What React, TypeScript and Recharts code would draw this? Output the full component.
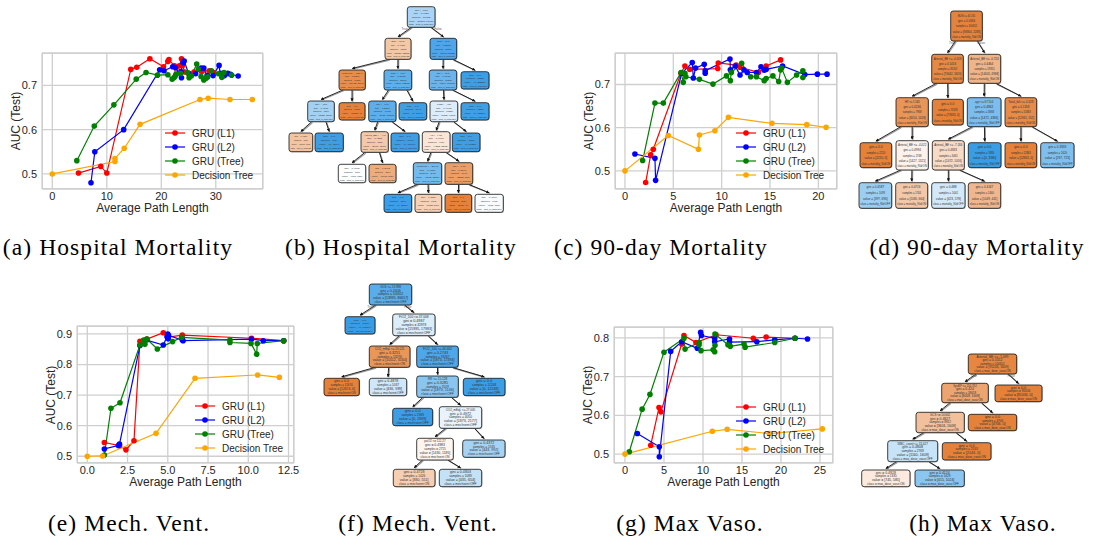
import { LineChart, Line, XAxis, YAxis, CartesianGrid } from "recharts";

type Pt = [number, number];

// (a) Hospital Mortality
const hospL1: Pt[] = [[4.8, 0.502], [8.9, 0.517], [10.0, 0.502], [14.4, 0.736], [15.5, 0.741], [17.9, 0.76], [20.4, 0.742], [21.2, 0.754], [21.4, 0.758], [22.4, 0.744], [22.6, 0.722], [23.3, 0.744], [23.7, 0.76], [23.9, 0.745], [24.3, 0.73], [26.0, 0.73], [27.5, 0.732], [28.8, 0.733], [29.6, 0.729]];
const hospL2: Pt[] = [[7.1, 0.48], [7.8, 0.55], [13.1, 0.6], [19.7, 0.735], [20.5, 0.733], [22.1, 0.742], [22.6, 0.74], [23.7, 0.717], [23.6, 0.731], [24.0, 0.751], [24.2, 0.755], [25.0, 0.727], [26.3, 0.726], [27.3, 0.739], [27.8, 0.739], [28.4, 0.722], [29.5, 0.722], [30.6, 0.745], [30.8, 0.727], [31.6, 0.722], [32.2, 0.727], [32.7, 0.725], [34.1, 0.721]];
const hospTree: Pt[] = [[4.5, 0.53], [7.7, 0.608], [11.3, 0.656], [15.4, 0.714], [17.2, 0.729], [19.3, 0.723], [21.2, 0.724], [22.0, 0.714], [22.4, 0.718], [22.7, 0.725], [23.5, 0.727], [24.8, 0.729], [25.1, 0.717], [25.5, 0.721], [26.5, 0.748], [26.8, 0.737], [27.3, 0.72], [27.8, 0.712], [28.2, 0.716], [28.5, 0.719], [29.2, 0.733], [30.5, 0.726], [31.1, 0.718], [31.5, 0.729], [32.9, 0.723]];
const hospDT: Pt[] = [[0, 0.5], [11.5, 0.528], [11.5, 0.535], [13.2, 0.558], [16.1, 0.612], [27.1, 0.668], [28.6, 0.671], [32.6, 0.668], [36.7, 0.668]];

// (c) 90-day Mortality
const mortL1: Pt[] = [[2.14, 0.473], [2.66, 0.537], [2.93, 0.55], [5.79, 0.726], [6.2, 0.743], [6.7, 0.735], [9.6, 0.737], [9.65, 0.75], [11.5, 0.745], [11.9, 0.74], [13.8, 0.728], [14.6, 0.743], [16.1, 0.757]];
const mortL2: Pt[] = [[1.03, 0.539], [3.1, 0.529], [3.17, 0.478], [5.86, 0.726], [6.96, 0.751], [7.07, 0.715], [7.3, 0.738], [8.2, 0.747], [8.3, 0.726], [8.3, 0.732], [10.86, 0.759], [10.9, 0.734], [11.4, 0.743], [11.9, 0.722], [12.3, 0.734], [12.65, 0.728], [13.6, 0.728], [14.07, 0.741], [14.4, 0.733], [14.6, 0.735], [16.3, 0.743], [18.6, 0.723], [19.9, 0.724], [20.9, 0.724]];
const mortTree: Pt[] = [[1.83, 0.524], [3.1, 0.657], [3.97, 0.657], [5.8, 0.728], [6.03, 0.705], [6.2, 0.726], [6.3, 0.718], [7.7, 0.712], [9.1, 0.701], [10.5, 0.72], [10.9, 0.709], [11.0, 0.728], [12.07, 0.749], [13.0, 0.718], [13.6, 0.718], [14.4, 0.709], [14.6, 0.714], [15.3, 0.72], [15.9, 0.707], [16.1, 0.734], [16.2, 0.738], [16.8, 0.705], [17.75, 0.722], [18.4, 0.732], [18.4, 0.716]];
const mortDT: Pt[] = [[0, 0.5], [4.48, 0.582], [7.6, 0.55], [7.7, 0.583], [9.3, 0.593], [10.7, 0.624], [15.2, 0.61], [18.8, 0.607], [20.8, 0.601]];

// (e) Mech. Vent.
const ventL1: Pt[] = [[1.06, 0.545], [2.0, 0.535], [2.4, 0.521], [2.9, 0.551], [3.27, 0.876], [3.7, 0.883], [4.72, 0.904], [5.03, 0.89], [5.9, 0.896], [10.2, 0.886], [12.2, 0.878]];
const ventL2: Pt[] = [[1.06, 0.524], [1.93, 0.535], [2.0, 0.54], [3.27, 0.862], [3.7, 0.88], [4.72, 0.864], [4.95, 0.891], [5.0, 0.9], [5.03, 0.884], [5.05, 0.895], [5.9, 0.88], [5.95, 0.878], [10.2, 0.883], [10.93, 0.878], [12.2, 0.878]];
const ventTree: Pt[] = [[1.06, 0.504], [1.47, 0.657], [2.03, 0.675], [3.27, 0.864], [3.5, 0.88], [3.58, 0.866], [3.7, 0.883], [4.35, 0.851], [5.3, 0.875], [5.86, 0.889], [8.86, 0.88], [8.86, 0.872], [10.17, 0.869], [10.52, 0.834], [10.56, 0.869], [12.2, 0.878]];
const ventDT: Pt[] = [[0, 0.5], [0.95, 0.501], [4.27, 0.575], [6.69, 0.755], [10.58, 0.766], [11.93, 0.758]];

// (g) Max Vaso.
const vasoL1: Pt[] = [[3.3, 0.523], [4.36, 0.62], [4.6, 0.609], [7.27, 0.784], [7.56, 0.806], [9.1, 0.788], [11.67, 0.808], [16.45, 0.799], [18.1, 0.802], [21.8, 0.799]];
const vasoL2: Pt[] = [[1.58, 0.553], [4.4, 0.519], [4.4, 0.493], [5.86, 0.765], [7.27, 0.79], [9.27, 0.773], [9.7, 0.814], [9.8, 0.806], [11.5, 0.799], [11.5, 0.79], [13.4, 0.797], [13.4, 0.789], [16.9, 0.79], [19.2, 0.795], [21.8, 0.799], [23.4, 0.797]];
const vasoTree: Pt[] = [[0.55, 0.506], [2.2, 0.616], [3.2, 0.654], [5.0, 0.763], [7.56, 0.799], [7.7, 0.771], [9.5, 0.788], [9.5, 0.782], [9.74, 0.767], [11.3, 0.769], [11.5, 0.764], [11.54, 0.781], [11.54, 0.81], [13.2, 0.782], [13.5, 0.778], [15.26, 0.784], [15.4, 0.776], [19.2, 0.788], [21.8, 0.799]];
const vasoDT: Pt[] = [[0, 0.5], [11.2, 0.559], [13.1, 0.564], [18.5, 0.553], [25.3, 0.565]];

const seriesNames = ["GRU (L1)", "GRU (L2)", "GRU (Tree)", "Decision Tree"];
const seriesColors = ["#ff0000", "#0000ff", "#008000", "#ffa500"];

const captions = [
  { text: "(a) Hospital Mortality", cx: 118, top: 236 },
  { text: "(b) Hospital Mortality", cx: 401, top: 236 },
  { text: "(c) 90-day Mortality", cx: 661, top: 236 },
  { text: "(d) 90-day Mortality", cx: 977, top: 236 },
  { text: "(e) Mech. Vent.", cx: 129, top: 512 },
  { text: "(f) Mech. Vent.", cx: 418, top: 512 },
  { text: "(g) Max Vaso.", cx: 690, top: 512 },
  { text: "(h) Max Vaso.", cx: 983, top: 512 },
];

const SANS = '"Liberation Sans", Arial, sans-serif';
const SERIF = '"Liberation Serif", "Times New Roman", serif';
const TXT = "#262626";
const GRID = "#cfcfcf";

const toRows = (pts: Pt[]) => pts.map(([x, y]) => ({ x, y }));

type PanelProps = {
  frame: [number, number, number, number];
  xDomain: [number, number];
  yDomain: [number, number];
  xTicks: number[];
  yTicks: number[];
  xFmt: (v: number) => string;
  series: Pt[][];
  legend: [number, number];
};

const Panel = ({ frame, xDomain, yDomain, xTicks, yTicks, xFmt, series, legend }: PanelProps) => {
  const [L, T, W, H] = frame;
  const padL = 40;
  const padT = 5;
  const padR = 5;
  const padB = 40;
  return (
    <>
      <div style={{ position: "absolute", left: L - padL, top: T - padT }}>
        <LineChart width={W + padL + padR} height={H + padT + padB} margin={{ top: padT, right: padR, bottom: 0, left: 0 }}>
          <CartesianGrid stroke={GRID} strokeWidth={1.3} />
          <XAxis
            type="number"
            dataKey="x"
            domain={xDomain}
            ticks={xTicks}
            interval={0}
            allowDataOverflow
            tickLine={false}
            axisLine={false}
            tickSize={0}
            tickMargin={3}
            height={padB}
            tick={{ fill: TXT, fontSize: 11 }}
            tickFormatter={xFmt}
          />
          <YAxis
            type="number"
            domain={yDomain}
            ticks={yTicks}
            interval={0}
            allowDataOverflow
            tickLine={false}
            axisLine={false}
            tickSize={0}
            tickMargin={5}
            width={padL}
            tick={{ fill: TXT, fontSize: 11 }}
            tickFormatter={(v: number) => v.toFixed(1)}
          />
          {series.map((pts, i) => (
            <Line
              key={seriesNames[i]}
              data={toRows(pts)}
              dataKey="y"
              type="linear"
              stroke={seriesColors[i]}
              strokeWidth={1.2}
              dot={{ r: 2.8, fill: seriesColors[i], stroke: seriesColors[i], strokeWidth: 0 }}
              isAnimationActive={false}
            />
          ))}
        </LineChart>
      </div>
      <div
        style={{
          position: "absolute",
          left: L,
          top: T,
          width: W,
          height: H,
          boxSizing: "border-box",
          border: `1.3px solid ${GRID}`,
          pointerEvents: "none",
        }}
      />
      <div
        style={{
          position: "absolute",
          left: L - 26 - 50,
          top: T + H / 2 - 8,
          width: 100,
          height: 16,
          lineHeight: "16px",
          textAlign: "center",
          transform: "rotate(-90deg)",
          fontSize: 12,
          color: TXT,
          fontFamily: SANS,
        }}
      >
        AUC (Test)
      </div>
      <div
        style={{
          position: "absolute",
          left: L + W / 2 - 100,
          top: T + H + 11,
          width: 200,
          lineHeight: "16px",
          textAlign: "center",
          fontSize: 12,
          color: TXT,
          fontFamily: SANS,
        }}
      >
        Average Path Length
      </div>
      <div style={{ position: "absolute", left: legend[0], top: legend[1], fontFamily: SANS, fontSize: 10, color: TXT }}>
        {seriesNames.map((name, i) => (
          <div key={name} style={{ display: "flex", alignItems: "center", height: 14 }}>
            <svg width={22} height={14} style={{ marginRight: 6 }}>
              <line x1={1} x2={21} y1={7} y2={7} stroke={seriesColors[i]} strokeWidth={1.2} />
              <circle cx={11} cy={7} r={2.8} fill={seriesColors[i]} />
            </svg>
            <span>{name}</span>
          </div>
        ))}
      </div>
    </>
  );
};

// decision tree node: x, y, w, h, fill, split ("" = leaf), gini, samples, value
type TNode = [number, number, number, number, string, string, string, string, string];

const treeB: TNode[] = [
  [407.3, 6.7, 27.7, 20.6, "#a9d4f5", "age <= 63.5", "0.4127", "100652", "[29201, 71451]"],
  [385, 38.3, 26, 21, "#f4c8a5", "BUN <= 28.75", "0.4656", "42082", "[26530, 15552]"],
  [430, 38.3, 26.7, 21, "#4fa5e7", "BUN <= 30.5", "0.2203", "58570", "[7342, 51228]"],
  [339, 70, 26.3, 20, "#e88e4d", "Platelets <= 121.0", "0.2561", "19321", "[16422, 2899]"],
  [384, 70, 27.7, 20, "#5fafea", "SOFA <= 10.5", "0.3188", "22761", "[4500, 18261]"],
  [429.3, 70, 27.4, 20, "#6ab4eb", "age <= 73.5", "0.3415", "30212", "[6594, 23618]"],
  [461, 71.7, 28, 17.3, "#3c9ee5", "", "0.0", "28358", "[0, 28358]"],
  [307.7, 101, 26.6, 20.7, "#a3d1f3", "age <= 33.5", "0.4671", "6201", "[2325, 3876]"],
  [339, 102.7, 26, 17.3, "#e58139", "", "0.0", "13120", "[13120, 0]"],
  [368.7, 101, 27.3, 20.7, "#5eaee9", "age <= 46.5", "0.2897", "14021", "[2459, 11562]"],
  [399, 102.7, 27.7, 17.3, "#3f9fe5", "", "0.0", "8740", "[0, 8740]"],
  [430, 101, 27.7, 20.7, "#dcecfa", "PaO2 <= 4.55", "0.4962", "17823", "[8115, 9708]"],
  [461, 102.7, 28, 17.3, "#3e9fe5", "", "0.0", "12389", "[0, 12389]"],
  [289, 133, 23.7, 18.7, "#f3c4a2", "", "0.4279", "1987", "[1371, 616]"],
  [315, 133, 28.3, 18.7, "#3d9ee5", "", "0.0", "4214", "[0, 4214]"],
  [361, 131.7, 27.3, 20.6, "#f4c9aa", "Arterial_BE <= -4.3", "0.4295", "3830", "[2634, 1196]"],
  [391, 133, 28, 18.7, "#3d9ee5", "", "0.0", "10191", "[0, 10191]"],
  [422.3, 131.7, 27.7, 20.6, "#fae5d6", "Hb <= 9.05", "0.4907", "7434", "[4222, 3212]"],
  [452.3, 133, 27.7, 18.7, "#3d9ee5", "", "0.0", "10389", "[0, 10389]"],
  [338.3, 164.3, 27.4, 18.4, "#fbfdff", "", "0.4995", "1290", "[637, 653]"],
  [369, 164.3, 27, 18.4, "#eeac7c", "", "0.3463", "2540", "[1975, 565]"],
  [413.3, 162.7, 28.4, 21.6, "#73baed", "Platelets <= 200.5", "0.4026", "3968", "[1112, 2856]"],
  [445, 162.7, 27.7, 21.6, "#eb9e66", "INR <= 1.15", "0.3797", "3466", "[2585, 881]"],
  [384, 194.3, 27.7, 18, "#3d9ee5", "", "0.0", "2306", "[0, 2306]"],
  [415, 194.3, 26.7, 18, "#f6d1b6", "", "0.4531", "1662", "[1083, 579]"],
  [445, 194.3, 26.7, 18, "#e58139", "", "0.0", "2034", "[2034, 0]"],
  [475, 194.3, 28.3, 18, "#f7fbfe", "", "0.4997", "1432", "[705, 727]"],
];
const edgesB: [number, number][] = [[0, 1], [0, 2], [1, 3], [1, 4], [2, 5], [2, 6], [3, 7], [3, 8], [4, 9], [4, 10], [5, 11], [5, 12], [7, 13], [7, 14], [9, 15], [9, 16], [11, 17], [11, 18], [15, 19], [15, 20], [17, 21], [17, 22], [21, 23], [21, 24], [22, 25], [22, 26]];

const treeD: TNode[] = [
  [950.7, 11, 31.6, 30, "#e5833c", "BUN <= 40.135", "0.0384", "100652", "[98364, 2288]"],
  [931.7, 54.3, 31.6, 29, "#e68945", "Arterial_BE <= -4.059", "0.1416", "81301", "[75642, 5659]"],
  [968.3, 54.3, 32.4, 29, "#f0b489", "Arterial_BE <= -0.724", "0.4464", "19351", "[14403, 4948]"],
  [896, 97.7, 32.3, 29, "#e99558", "HR <= 1.563", "0.4246", "7968", "[6550, 1418]"],
  [932.3, 99.3, 31, 25.7, "#e58139", "", "0.0", "73333", "[73333, 0]"],
  [967.3, 97.7, 33.7, 29, "#7bbdee", "age <= 67.554", "0.4862", "5868", "[1472, 4396]"],
  [1005, 97.7, 31.7, 29, "#e78b48", "Total_bili <= 0.328", "0.1358", "13483", "[12931, 552]"],
  [860, 142.7, 31.7, 25, "#e58139", "", "0.0", "2220", "[2220, 0]"],
  [896, 140.7, 32.3, 29.3, "#fcf2eb", "Arterial_BE <= -4.022", "0.4994", "2748", "[1427, 1321]"],
  [932.3, 140.7, 32, 29.3, "#f8dbc7", "Arterial_BE <= -7.184", "0.4833", "3461", "[1472, 1016]"],
  [968.3, 142.7, 32.7, 25, "#399de5", "", "0.0", "3380", "[0, 3380]"],
  [1005, 142.7, 31.7, 25, "#e58139", "", "0.0", "12863", "[12863, 0]"],
  [1040.7, 142.7, 33.3, 25, "#7fbfee", "", "0.3959", "1620", "[297, 723]"],
  [859, 182.7, 32.7, 25.6, "#9ccef2", "", "0.4587", "1093", "[397, 696]"],
  [895.7, 182.7, 32, 25.6, "#f3c8a9", "", "0.4716", "1744", "[1080, 664]"],
  [931.7, 182.7, 33.3, 25.6, "#d3e9f9", "", "0.488", "1001", "[423, 578]"],
  [968.3, 182.7, 32.4, 25.6, "#f0b78f", "", "0.4167", "1460", "[1049, 441]"],
];
const edgesD: [number, number][] = [[0, 1], [0, 2], [1, 3], [1, 4], [2, 5], [2, 6], [3, 7], [3, 8], [5, 9], [5, 10], [6, 11], [6, 12], [8, 13], [8, 14], [9, 15], [9, 16]];

const treeF: TNode[] = [
  [369.3, 284, 42.4, 21, "#5aade9", "GCS <= 13.998", "0.2406", "100652", "[13995, 86657]"],
  [345, 316.7, 30, 17.3, "#399de5", "", "0.0", "67874", "[0, 67874]"],
  [392.7, 314, 42.3, 21.7, "#dcedfa", "FiO2_100 <= 37.008", "0.4987", "32978", "[15995, 17983]"],
  [369.3, 346, 40.7, 21.3, "#e99659", "CO2_mEqL <= 20.125", "0.3251", "13276", "[10112, 3164]"],
  [416.7, 346, 41.6, 21.3, "#4ea7e8", "FiO2_100 <= 46.662", "0.2743", "19267", "[1873, 17394]"],
  [324, 378.3, 35.3, 17.4, "#e58139", "", "0.0", "12674", "[12674, 0]"],
  [369.3, 378.3, 37.4, 17.4, "#cfe7f9", "", "0.4878", "1037", "[436, 599]"],
  [416.7, 376, 41.6, 21.3, "#8ac5f0", "RR <= 15.128", "0.3285", "7019", "[1873, 5146]"],
  [463.3, 378.3, 41.7, 17.4, "#3c9ee5", "", "0.0", "12248", "[0, 12248]"],
  [392.7, 408.3, 40, 17.4, "#3d9ee5", "", "0.0", "2969", "[0, 2969]"],
  [439.3, 406.7, 42.4, 21.6, "#e8f3fc", "CO2_mEqL <= 27.005", "0.4972", "4050", "[1873, 2177]"],
  [416.7, 438.3, 36.6, 21.7, "#fdf5f0", "paO2 <= 112.27", "0.4983", "2715", "[1430, 1185]"],
  [462.7, 440, 42.3, 17.3, "#a6d3f3", "", "0.4372", "1535", "[443, 992]"],
  [393.3, 469.3, 41.7, 17.4, "#f6cfb3", "", "0.4728", "1426", "[880, 551]"],
  [439.3, 469.3, 42.4, 17.4, "#c3e1f7", "", "0.4803", "1089", "[435, 654]"],
];
const edgesF: [number, number][] = [[0, 1], [0, 2], [2, 3], [2, 4], [3, 5], [3, 6], [4, 7], [4, 8], [7, 9], [7, 10], [10, 11], [10, 12], [11, 13], [11, 14]];

const treeH: TNode[] = [
  [968.3, 354, 48.4, 20, "#e68640", "Arterial_BE <= -5.099", "0.1052", "100652", "[95243, 5609]"],
  [941.7, 383.3, 46.6, 19.4, "#eca470", "SysBP <= 110.752", "0.424", "18618", "[8009, 1609]"],
  [995, 385, 47, 16.7, "#e58139", "", "0.0", "91034", "[91034, 0]"],
  [916, 412.3, 48.3, 20.4, "#f2c09c", "GCS <= 10.662", "0.4827", "8912", "[3603, 1609]"],
  [968.3, 414.3, 48.4, 16.4, "#e58139", "", "0.0", "4706", "[4706, 0]"],
  [887.7, 440.7, 50, 21, "#c7e3f8", "WBC_count <= 13.427", "0.4808", "2769", "[1160, 1609]"],
  [942.3, 442.7, 48.7, 17.3, "#e58139", "", "0.0", "2143", "[2143, 0]"],
  [861.7, 470, 48.3, 16.7, "#fbeadd", "", "0.4928", "1335", "[745, 585]"],
  [915, 470, 49.3, 16.7, "#8bc6f0", "", "0.4124", "1429", "[415, 1024]"],
];
const edgesH: [number, number][] = [[0, 1], [0, 2], [1, 3], [1, 4], [3, 5], [3, 6], [5, 7], [5, 8]];

const trees = [
  { nodes: treeB, edges: edgesB, cls: "died_in_hosp" },
  { nodes: treeD, edges: edgesD, cls: "mortality_90d" },
  { nodes: treeF, edges: edgesF, cls: "mechvent" },
  { nodes: treeH, edges: edgesH, cls: "max_dose_vaso" },
];

const isOn = (fill: string) => parseInt(fill.slice(1, 3), 16) > parseInt(fill.slice(5, 7), 16);

const TreeDiagram = ({ nodes, edges, cls }: { nodes: TNode[]; edges: [number, number][]; cls: string }) => {
  const root = nodes[0];
  const c1 = nodes[edges[0][1]];
  const c2 = nodes[edges[1][1]];
  const ry = root[1] + root[3] + 3;
  return (
    <g>
      {edges.map(([p, c]) => {
        const P = nodes[p];
        const C = nodes[c];
        const pcx = P[0] + P[2] / 2;
        const ccx = C[0] + C[2] / 2;
        const dx = Math.max(-P[2] * 0.35, Math.min(P[2] * 0.35, (ccx - pcx) * 0.6));
        return (
          <g key={`${p}-${c}`}>
            <line x1={pcx + dx + 0.8} y1={P[1] + P[3] + 0.8} x2={ccx + 0.8} y2={C[1] - 1} stroke="#9a9a9a" strokeWidth={1.2} />
            <line x1={pcx + dx} y1={P[1] + P[3]} x2={ccx} y2={C[1] - 1.5} stroke="#111" strokeWidth={0.9} markerEnd="url(#arrowHead)" />
          </g>
        );
      })}
      <text x={(root[0] + root[2] / 2 + c1[0] + c1[2] / 2) / 2 - 2} y={ry} fontSize={3} fill="#555" textAnchor="end">
        True
      </text>
      <text x={(root[0] + root[2] / 2 + c2[0] + c2[2] / 2) / 2 + 2} y={ry} fontSize={3} fill="#555">
        False
      </text>
      {nodes.map((n, i) => {
        const [x, y, w, h, fill, split, gini, samples, value] = n;
        const lines = [
          ...(split ? [split] : []),
          `gini = ${gini}`,
          `samples = ${samples}`,
          `value = ${value}`,
          `class = ${cls}:${isOn(fill) ? "ON" : "OFF"}`,
        ];
        const step = h / (lines.length + 0.6);
        const fs = Math.min(step * 0.85, w / 12);
        return (
          <g key={i}>
            <rect x={x + 0.6} y={y + 0.6} width={w} height={h} rx={2.5} fill="#8d8d8d" opacity={0.8} />
            <rect x={x} y={y} width={w} height={h} rx={2.5} fill={fill} stroke="#111" strokeWidth={0.8} />
            {lines.map((t, j) => (
              <text key={j} x={x + w / 2} y={y + step * (j + 1) + 0.2} fontSize={fs} fill="#333" textAnchor="middle" textLength={Math.min(w - 3, t.length * fs * 0.5)} lengthAdjust="spacingAndGlyphs">
                {t}
              </text>
            ))}
          </g>
        );
      })}
    </g>
  );
};

const intFmt = (v: number) => String(v);
const oneFmt = (v: number) => v.toFixed(1);

export default function App() {
  return (
    <div
      style={{
        position: "absolute",
        left: 0,
        top: 0,
        width: 1117,
        height: 546,
        background: "#fff",
        overflow: "hidden",
        fontFamily: SANS,
      }}
    >
      <Panel
        frame={[42, 53, 221, 136]}
        xDomain={[-1.89, 38.66]}
        yDomain={[0.466, 0.773]}
        xTicks={[0, 10, 20, 30]}
        yTicks={[0.5, 0.6, 0.7]}
        xFmt={intFmt}
        series={[hospL1, hospL2, hospTree, hospDT]}
        legend={[164, 126]}
      />
      <Panel
        frame={[615, 53, 222, 136]}
        xDomain={[-1.03, 21.93]}
        yDomain={[0.458, 0.773]}
        xTicks={[0, 5, 10, 15, 20]}
        yTicks={[0.5, 0.6, 0.7]}
        xFmt={intFmt}
        series={[mortL1, mortL2, mortTree, mortDT]}
        legend={[735, 126]}
      />
      <Panel
        frame={[77, 326, 217, 137]}
        xDomain={[-0.64, 12.84]}
        yDomain={[0.478, 0.926]}
        xTicks={[0, 2.5, 5, 7.5, 10, 12.5]}
        yTicks={[0.5, 0.6, 0.7, 0.8, 0.9]}
        xFmt={oneFmt}
        series={[ventL1, ventL2, ventTree, ventDT]}
        legend={[194, 399]}
      />
      <Panel
        frame={[614, 327, 219, 136]}
        xDomain={[-1.41, 26.67]}
        yDomain={[0.477, 0.828]}
        xTicks={[0, 5, 10, 15, 20, 25]}
        yTicks={[0.5, 0.6, 0.7, 0.8]}
        xFmt={intFmt}
        series={[vasoL1, vasoL2, vasoTree, vasoDT]}
        legend={[735, 400]}
      />
      <svg width={1117} height={546} style={{ position: "absolute", left: 0, top: 0, pointerEvents: "none" }} fontFamily={SANS}>
        <defs>
          <marker id="arrowHead" viewBox="0 0 10 10" refX={9} refY={5} markerWidth={3.5} markerHeight={3.5} orient="auto">
            <path d="M0,0 L10,5 L0,10 z" fill="#111" />
          </marker>
        </defs>
        {trees.map((t) => (
          <TreeDiagram key={t.cls} nodes={t.nodes} edges={t.edges} cls={t.cls} />
        ))}
      </svg>
      {captions.map((c) => (
        <div
          key={c.text}
          style={{
            position: "absolute",
            left: c.cx - 150,
            top: c.top,
            width: 300,
            textAlign: "center",
            fontFamily: SERIF,
            fontSize: 23.5,
            lineHeight: "22px",
            letterSpacing: 1.1,
            color: "#000",
            whiteSpace: "nowrap",
          }}
        >
          {c.text}
        </div>
      ))}
    </div>
  );
}
